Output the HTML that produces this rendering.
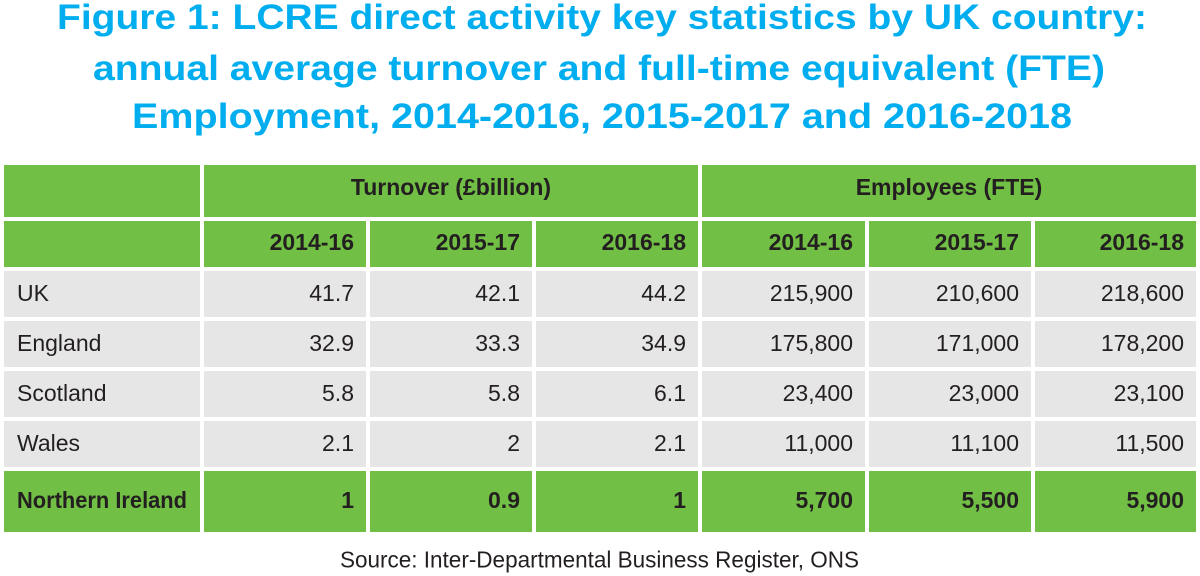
<!DOCTYPE html>
<html>
<head>
<meta charset="utf-8">
<style>
  html, body { margin: 0; padding: 0; background: #ffffff; }
  body { width: 1200px; height: 576px; overflow: hidden; }
  svg { display: block; }
  .title { font-family: "Liberation Sans", sans-serif; font-weight: bold; font-size: 35px; fill: #00AEEF; }
  .hd { font-family: "Liberation Sans", sans-serif; font-weight: bold; font-size: 23px; fill: #231F20; }
  .td { font-family: "Liberation Sans", sans-serif; font-size: 23px; fill: #231F20; }
  .tb { font-family: "Liberation Sans", sans-serif; font-weight: bold; font-size: 23px; fill: #231F20; }
  .src { font-family: "Liberation Sans", sans-serif; font-size: 23px; fill: #231F20; }
</style>
</head>
<body>
<svg width="1200" height="576" viewBox="0 0 1200 576" xmlns="http://www.w3.org/2000/svg">
  <rect x="0" y="0" width="1200" height="576" fill="#ffffff"/>

  <!-- Title -->
  <text class="title" x="57" y="29" textLength="1090" lengthAdjust="spacingAndGlyphs">Figure 1: LCRE direct activity key statistics by UK country:</text>
  <text class="title" x="93" y="80" textLength="1012" lengthAdjust="spacingAndGlyphs">annual average turnover and full-time equivalent (FTE)</text>
  <text class="title" x="132" y="128" textLength="940" lengthAdjust="spacingAndGlyphs">Employment, 2014-2016, 2015-2017 and 2016-2018</text>

  <!-- Header row 1 -->
  <g fill="#71BF45">
    <rect x="4" y="165" width="196" height="52"/>
    <rect x="204" y="165" width="494" height="52"/>
    <rect x="702" y="165" width="494" height="52"/>
  </g>
  <text class="hd" x="451" y="195" text-anchor="middle">Turnover (£billion)</text>
  <text class="hd" x="949" y="195" text-anchor="middle">Employees (FTE)</text>

  <!-- Header row 2 -->
  <g fill="#71BF45">
    <rect x="4" y="221" width="196" height="46"/>
    <rect x="204" y="221" width="162" height="46"/>
    <rect x="370" y="221" width="162" height="46"/>
    <rect x="536" y="221" width="162" height="46"/>
    <rect x="702" y="221" width="163" height="46"/>
    <rect x="869" y="221" width="162" height="46"/>
    <rect x="1035" y="221" width="161" height="46"/>
  </g>
  <g class="hd" text-anchor="end">
    <text x="354" y="250">2014-16</text>
    <text x="520" y="250">2015-17</text>
    <text x="686" y="250">2016-18</text>
    <text x="853" y="250">2014-16</text>
    <text x="1019" y="250">2015-17</text>
    <text x="1184" y="250">2016-18</text>
  </g>

  <!-- Data rows backgrounds -->
  <g fill="#E6E6E6">
    <rect x="4" y="271" width="196" height="46"/>
    <rect x="204" y="271" width="162" height="46"/>
    <rect x="370" y="271" width="162" height="46"/>
    <rect x="536" y="271" width="162" height="46"/>
    <rect x="702" y="271" width="163" height="46"/>
    <rect x="869" y="271" width="162" height="46"/>
    <rect x="1035" y="271" width="161" height="46"/>

    <rect x="4" y="321" width="196" height="46"/>
    <rect x="204" y="321" width="162" height="46"/>
    <rect x="370" y="321" width="162" height="46"/>
    <rect x="536" y="321" width="162" height="46"/>
    <rect x="702" y="321" width="163" height="46"/>
    <rect x="869" y="321" width="162" height="46"/>
    <rect x="1035" y="321" width="161" height="46"/>

    <rect x="4" y="371" width="196" height="46"/>
    <rect x="204" y="371" width="162" height="46"/>
    <rect x="370" y="371" width="162" height="46"/>
    <rect x="536" y="371" width="162" height="46"/>
    <rect x="702" y="371" width="163" height="46"/>
    <rect x="869" y="371" width="162" height="46"/>
    <rect x="1035" y="371" width="161" height="46"/>

    <rect x="4" y="421" width="196" height="46"/>
    <rect x="204" y="421" width="162" height="46"/>
    <rect x="370" y="421" width="162" height="46"/>
    <rect x="536" y="421" width="162" height="46"/>
    <rect x="702" y="421" width="163" height="46"/>
    <rect x="869" y="421" width="162" height="46"/>
    <rect x="1035" y="421" width="161" height="46"/>
  </g>

  <!-- Northern Ireland row -->
  <g fill="#71BF45">
    <rect x="4" y="471" width="196" height="61"/>
    <rect x="204" y="471" width="162" height="61"/>
    <rect x="370" y="471" width="162" height="61"/>
    <rect x="536" y="471" width="162" height="61"/>
    <rect x="702" y="471" width="163" height="61"/>
    <rect x="869" y="471" width="162" height="61"/>
    <rect x="1035" y="471" width="161" height="61"/>
  </g>

  <!-- Row labels -->
  <g class="td">
    <text x="17" y="301">UK</text>
    <text x="17" y="351">England</text>
    <text x="17" y="401">Scotland</text>
    <text x="17" y="451">Wales</text>
  </g>
  <text class="tb" x="17" y="508" textLength="170" lengthAdjust="spacingAndGlyphs">Northern Ireland</text>

  <!-- Data values -->
  <g class="td" text-anchor="end">
    <text x="354" y="301">41.7</text>
    <text x="520" y="301">42.1</text>
    <text x="686" y="301">44.2</text>
    <text x="853" y="301">215,900</text>
    <text x="1019" y="301">210,600</text>
    <text x="1184" y="301">218,600</text>

    <text x="354" y="351">32.9</text>
    <text x="520" y="351">33.3</text>
    <text x="686" y="351">34.9</text>
    <text x="853" y="351">175,800</text>
    <text x="1019" y="351">171,000</text>
    <text x="1184" y="351">178,200</text>

    <text x="354" y="401">5.8</text>
    <text x="520" y="401">5.8</text>
    <text x="686" y="401">6.1</text>
    <text x="853" y="401">23,400</text>
    <text x="1019" y="401">23,000</text>
    <text x="1184" y="401">23,100</text>

    <text x="354" y="451">2.1</text>
    <text x="520" y="451">2</text>
    <text x="686" y="451">2.1</text>
    <text x="853" y="451">11,000</text>
    <text x="1019" y="451">11,100</text>
    <text x="1184" y="451">11,500</text>
  </g>
  <g class="tb" text-anchor="end">
    <text x="354" y="508">1</text>
    <text x="520" y="508">0.9</text>
    <text x="686" y="508">1</text>
    <text x="853" y="508">5,700</text>
    <text x="1019" y="508">5,500</text>
    <text x="1184" y="508">5,900</text>
  </g>

  <!-- Source -->
  <text class="src" x="340" y="567.5" textLength="519" lengthAdjust="spacingAndGlyphs">Source: Inter-Departmental Business Register, ONS</text>
</svg>
</body>
</html>
